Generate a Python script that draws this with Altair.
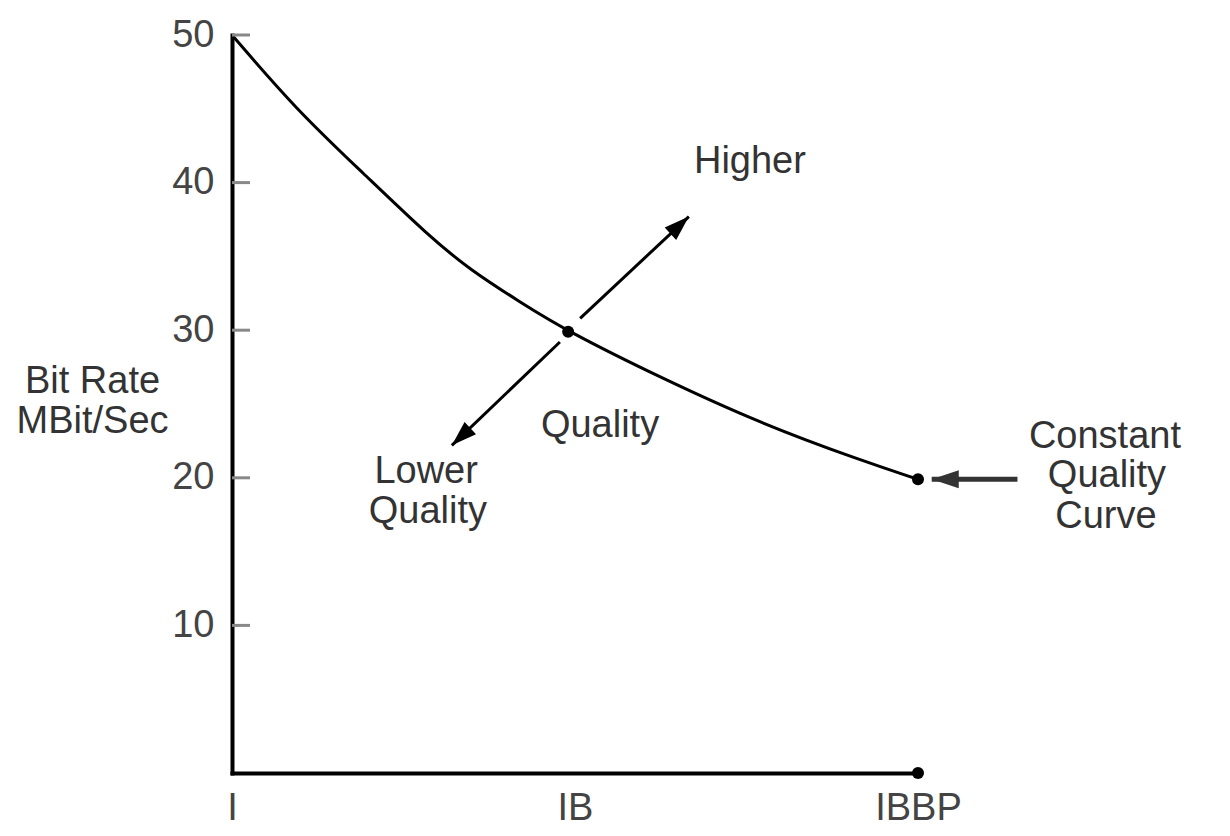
import altair as alt
import pandas as pd

FONT = "Liberation Sans"

# Constant quality curve (x: 0=I, 1=IB, 2=IBBP ; y: MBit/s)
curve_x = [0.0, 0.189, 0.382, 0.577, 0.694, 0.84, 0.98, 1.248, 1.539, 1.831, 2.0]
curve_y = [50.0, 44.9, 40.65, 36.3, 34.1, 31.9, 29.9, 26.8, 23.7, 21.2, 19.9]

# Marked points
dot_x = [0.98, 2.0, 2.0]
dot_y = [29.9, 19.9, 0.0]

# Axis tick values / labels
x_ticks = [0, 1, 2]
x_labels = ["I", "IB", "IBBP"]
y_ticks = [10, 20, 30, 40, 50]

# Arrows: shaft start -> tip, head angle (deg), head size, shaft width
arrow_x0 = [1.015, 0.956, 2.29]
arrow_y0 = [30.8, 29.2, 19.9]
arrow_x1 = [1.332, 0.641, 2.04]
arrow_y1 = [37.7, 22.2, 19.9]
arrow_angle = [47, 227, 270]
arrow_size = [784, 784, 900]
arrow_width = [3, 3, 5]
arrow_color = ["black", "black", "#333333"]

# Annotation lines (centre x, baseline y in data units)
note_text = ["Higher", "Quality", "Lower", "Quality", "Constant", "Quality", "Curve"]
note_x = [1.51, 1.073, 0.566, 0.571, 2.545, 2.551, 2.548]
note_y = [40.65, 22.76, 19.65, 16.94, 22.02, 19.38, 16.6]

curve_df = pd.DataFrame({"x": curve_x, "y": curve_y})
dot_df = pd.DataFrame({"x": dot_x, "y": dot_y})
tick_df = pd.DataFrame({"y": y_ticks})
arrow_df = pd.DataFrame({
    "x0": arrow_x0, "y0": arrow_y0, "x1": arrow_x1, "y1": arrow_y1,
    "angle": arrow_angle, "size": arrow_size, "w": arrow_width, "c": arrow_color,
})
note_df = pd.DataFrame({"t": note_text, "x": note_x, "y": note_y})

label_expr = "[" + ",".join("'%s'" % s for s in x_labels) + "][datum.value]"

xscale = alt.Scale(domain=[0, 2], nice=False, zero=False)
yscale = alt.Scale(domain=[0, 50], nice=False)

x_axis = alt.Axis(
    values=x_ticks, labelExpr=label_expr, ticks=False, grid=False, title=None,
    labelFont=FONT, labelFontSize=38, labelColor="#444444", labelPadding=16,
    labelFlush=False, labelOverlap=False,
    domainColor="black", domainWidth=4, domainCap="square",
)
y_axis = alt.Axis(
    values=y_ticks, ticks=False, grid=False, labelPadding=18,
    labelFont=FONT, labelFontSize=38, labelColor="#444444", labelFlush=False,
    domainColor="black", domainWidth=4, domainCap="square",
    title=["Bit Rate", "MBit/Sec"], titleAngle=0, titleFont=FONT, titleFontSize=38,
    titleFontWeight="normal", titleColor="#333333", titleAlign="center",
    titleBaseline="alphabetic", titleX=-140, titleY=357, titleLineHeight=40,
)

base = alt.Chart(curve_df)

curve = base.mark_line(color="black", strokeWidth=3, interpolate="basis").encode(
    x=alt.X("x:Q", scale=xscale, axis=x_axis),
    y=alt.Y("y:Q", scale=yscale, axis=y_axis),
)

ticks = alt.Chart(tick_df).mark_rule(color="#888888", strokeWidth=3).encode(
    x=alt.value(0), x2=alt.value(18), y=alt.Y("y:Q", scale=yscale)
)

dots = alt.Chart(dot_df).mark_point(shape="circle", filled=True, color="black", size=144, opacity=1).encode(
    x=alt.X("x:Q", scale=xscale), y=alt.Y("y:Q", scale=yscale)
)

shafts = alt.Chart(arrow_df).mark_rule().encode(
    x=alt.X("x0:Q", scale=xscale), y=alt.Y("y0:Q", scale=yscale),
    x2="x1:Q", y2="y1:Q",
    strokeWidth=alt.StrokeWidth("w:Q", scale=None),
    color=alt.Color("c:N", scale=None),
)

heads = alt.Chart(arrow_df).mark_point(
    shape="M0,0L0.6,1.8L-0.6,1.8Z", filled=True, opacity=1, strokeWidth=0
).encode(
    x=alt.X("x1:Q", scale=xscale), y=alt.Y("y1:Q", scale=yscale),
    angle=alt.Angle("angle:Q", scale=None),
    size=alt.Size("size:Q", scale=None),
    color=alt.Color("c:N", scale=None),
)

notes = alt.Chart(note_df).mark_text(
    font=FONT, fontSize=38, color="#333333", align="center", baseline="alphabetic"
).encode(
    x=alt.X("x:Q", scale=xscale), y=alt.Y("y:Q", scale=yscale), text="t:N"
)

chart = alt.layer(curve, ticks, shafts, heads, dots, notes).properties(
    width=686, height=738,
    background="white",
    autosize=alt.AutoSizeParams(type="none"),
    padding={"left": 224, "top": 27, "right": 290, "bottom": 58},
).configure_view(stroke=None, strokeWidth=0)

chart.save("out.html", embed_options={"renderer": "svg", "actions": False})
